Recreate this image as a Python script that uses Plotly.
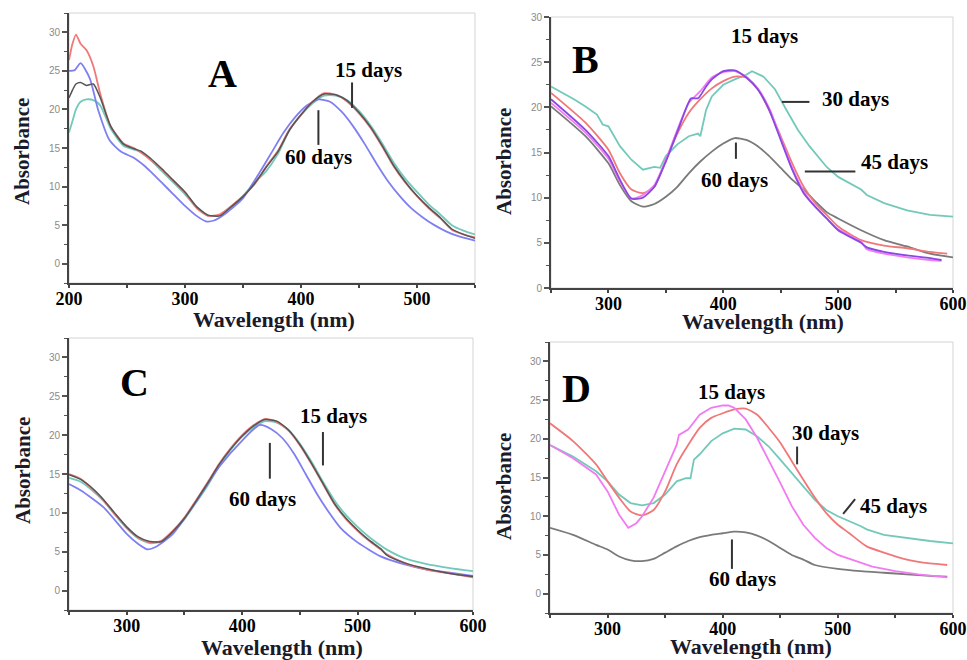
import plotly.graph_objects as go

# ---------------- DATA ----------------
# Panel A
wlA_red = [200,203,206,210,215,221,227,236,247,256,262,270,280,290,300,310,320,330,340,350,360,370,380,390,400,410,420,430,440,450,460,470,480,490,500,510,520,530,540,550]
absA_red = [26.4,28.5,29.7,28.5,27.7,25.6,22.0,17.8,15.6,15.0,14.4,13.5,12.2,10.7,9.2,7.2,6.2,6.4,7.5,8.75,10.3,12.6,14.6,17.4,19.3,21.0,22.1,21.9,21.0,19.5,17.6,15.2,12.6,10.5,8.75,7.2,5.9,4.4,3.8,3.4]
absA_gray = [21.5,22.5,23.3,23.5,23.1,23.3,21.5,17.8,15.5,14.9,14.6,13.7,12.3,10.8,9.3,7.4,6.3,6.2,7.4,8.7,10.4,12.5,14.5,17.3,19.3,21.0,22.0,21.9,21.1,19.6,17.7,15.3,12.7,10.6,8.8,7.3,6.0,4.5,3.8,3.3]
absA_teal = [17.0,18.5,20.0,21.0,21.3,21.2,20.5,17.5,15.3,14.8,14.5,13.5,12.0,10.5,9.0,7.3,6.2,6.3,7.4,8.8,10.5,12.0,14.2,17.3,19.3,20.8,21.8,21.8,21.2,19.8,17.9,15.6,13.1,11.0,9.3,7.7,6.4,5.0,4.3,3.8]
wlA_blue = [200,205,210,218,225,235,245,255,265,270,280,290,300,310,318,325,335,350,365,375,385,395,405,415,425,435,445,455,465,475,485,495,505,515,525,535,550]
absA_blue = [25.0,25.1,26.0,24.0,20.0,16.0,14.5,13.8,12.7,12.0,10.5,9.0,7.5,6.2,5.5,5.6,6.5,8.5,12.0,14.5,17.0,19.0,20.5,21.3,21.0,19.7,17.8,15.5,13.0,10.7,8.8,7.2,6.0,5.0,4.2,3.6,3.0]

# Panel B
wlB_teal = [250,270,280,290,295,300,310,320,330,340,345,350,360,370,378,380,385,390,400,410,420,425,435,445,455,465,475,490,500,520,525,540,560,580,600]
absB_teal = [22.3,20.9,20.1,19.2,18.1,17.9,15.7,14.2,13.1,13.4,13.3,14.6,15.9,16.8,17.1,16.8,19.7,21.2,22.5,23.1,23.6,24.0,23.4,22.0,19.7,17.5,15.7,13.4,12.3,10.9,10.3,9.4,8.6,8.1,7.9]
wlB_red = [250,280,300,310,320,330,340,350,360,370,380,390,400,410,420,430,440,450,460,470,480,490,500,520,540,560,580,595]
absB_red = [21.6,18.3,15.3,12.7,10.9,10.5,11.2,14.2,17.1,19.4,20.9,22.1,22.9,23.4,23.3,22.0,19.7,16.8,13.8,11.2,9.4,8.1,6.8,5.3,4.7,4.4,4.0,3.8]
wlB_purple = [250,280,300,310,320,330,340,350,360,368,372,378,385,390,400,410,420,430,440,450,460,470,480,490,500,520,525,540,560,580,590]
absB_purple = [20.9,17.5,14.6,12.0,9.9,10.0,11.2,14.0,17.3,20.0,21.0,21.0,22.3,23.1,24.0,24.1,23.3,22.0,19.7,16.4,13.1,10.5,9.0,7.7,6.4,5.0,4.5,4.0,3.6,3.3,3.1]
wlB_magenta = [250,280,300,310,320,330,340,350,360,370,380,390,400,410,420,430,440,450,460,470,480,490,500,520,525,540,560,580,590]
absB_magenta = [20.5,17.2,14.3,11.8,9.9,10.3,11.4,14.2,17.5,20.5,21.8,23.3,23.9,24.0,23.4,22.1,19.9,16.6,13.3,10.7,9.0,7.7,6.5,5.1,4.3,3.8,3.4,3.1,3.0]
wlB_gray = [250,280,300,310,320,330,340,350,360,370,380,390,400,410,420,430,440,450,460,470,480,490,500,520,540,560,580,600]
absB_gray = [20.1,16.8,13.8,11.4,9.6,9.0,9.3,10.1,11.2,12.7,14.0,15.1,16.0,16.6,16.4,15.7,14.6,13.3,12.0,10.9,9.6,8.4,7.7,6.4,5.3,4.6,3.8,3.4]

# Panel C
wlC = [250,260,270,280,290,300,310,320,330,340,350,360,370,380,390,400,410,420,430,440,450,460,470,480,490,500,510,520,525,540,560,580,600]
absC_red = [15.0,14.4,13.1,11.6,9.8,8.1,6.8,6.2,6.4,7.7,9.4,11.6,13.9,16.3,18.3,20.0,21.3,22.1,21.7,20.6,18.7,16.3,13.7,11.1,9.2,7.7,6.4,5.3,4.7,3.6,2.7,2.2,1.7]
absC_gray = [14.9,14.3,13.2,11.7,9.9,8.2,6.9,6.3,6.3,7.6,9.3,11.5,13.8,16.2,18.2,19.9,21.2,22.0,21.8,20.7,18.8,16.4,13.8,11.2,9.3,7.8,6.5,5.4,4.6,3.6,2.8,2.2,1.8]
absC_teal = [14.5,14.0,12.9,11.5,9.7,8.0,6.7,6.1,6.3,7.5,9.2,11.3,13.5,16.0,18.1,19.8,21.0,21.8,21.6,20.7,18.9,16.6,14.0,11.6,9.7,8.2,6.9,5.8,5.3,4.2,3.4,2.9,2.5]
wlC_blue = [250,260,280,300,310,318,325,340,360,380,400,415,425,435,445,455,465,475,485,500,520,540,560,580,600]
absC_blue = [13.7,12.9,10.7,7.3,6.0,5.3,5.6,7.3,11.4,15.9,19.3,21.3,20.8,19.6,17.6,15.0,12.4,10.1,8.1,6.2,4.4,3.4,2.7,2.3,1.9]

# Panel D
wlD_red = [250,270,290,300,310,320,330,340,350,360,370,380,390,400,410,420,430,440,450,460,470,480,490,500,510,525,540,560,580,595]
absD_red = [22.0,19.7,16.7,14.5,12.4,10.6,10.1,10.8,13.2,16.7,19.2,21.4,22.7,23.3,23.8,23.9,23.1,21.4,19.5,17.1,14.7,12.4,10.4,8.9,7.8,6.1,5.3,4.4,3.9,3.7]
wlD_magenta = [250,270,290,300,310,318,325,330,340,350,360,362,370,380,390,400,405,410,420,430,440,450,460,470,480,490,500,520,530,550,570,595]
absD_magenta = [19.2,17.5,15.4,13.2,10.2,8.5,9.1,10.0,12.4,15.8,19.2,20.5,21.2,23.1,24.0,24.3,24.3,24.0,22.5,20.1,17.3,14.3,11.3,8.9,7.2,5.9,5.0,4.0,3.5,2.9,2.5,2.1]
wlD_teal = [250,270,290,300,310,320,330,340,350,360,368,372,375,380,390,400,410,420,430,440,450,460,470,480,490,500,520,525,540,560,580,600]
absD_teal = [19.2,17.7,15.8,14.5,12.8,11.7,11.4,11.7,12.8,14.5,14.9,14.9,17.3,18.0,19.7,20.7,21.3,21.2,20.3,19.0,17.3,15.6,13.9,12.1,10.8,10.0,8.7,8.3,7.6,7.2,6.8,6.5]
wlD_gray = [250,270,290,300,310,320,330,340,350,360,370,380,390,400,410,420,430,440,450,460,470,480,500,520,540,560,580,595]
absD_gray = [8.5,7.6,6.3,5.7,4.8,4.3,4.2,4.5,5.3,6.1,6.8,7.3,7.6,7.8,8.0,7.9,7.5,6.8,5.9,5.0,4.4,3.7,3.2,2.9,2.7,2.5,2.3,2.2]

x_ticks_A = [200, 300, 400, 500]
x_ticks_other = [300, 400, 500, 600]

# ---------------- STYLE ----------------
RED = "#f07878"
BLUE = "#7f7ff2"
DGRAY = "#555555"
MGRAY = "#7a7a7a"
TEAL = "#72c9ba"
MAGENTA = "#f27af2"
PURPLE = "#8a48e2"

SERIF = "Liberation Serif"

fig = go.Figure()

def add(x, y, color, ax, width=1.8, shape="spline"):
    fig.add_trace(go.Scatter(x=x, y=y, mode="lines", xaxis="x" + ax, yaxis="y" + ax,
                             line=dict(color=color, width=width, shape=shape, smoothing=0.6),
                             showlegend=False, hoverinfo="skip"))

# A
add(wlA_red, absA_teal, TEAL, "")
add(wlA_blue, absA_blue, BLUE, "")
add(wlA_red, absA_red, RED, "")
add(wlA_red, absA_gray, DGRAY, "", width=1.5)
# B
add(wlB_teal, absB_teal, TEAL, "2", shape="linear")
add(wlB_gray, absB_gray, MGRAY, "2")
add(wlB_red, absB_red, RED, "2")
add(wlB_magenta, absB_magenta, MAGENTA, "2")
add(wlB_purple, absB_purple, PURPLE, "2")
# C
add(wlC, absC_teal, TEAL, "3")
add(wlC_blue, absC_blue, BLUE, "3")
add(wlC, absC_red, RED, "3")
add(wlC, absC_gray, DGRAY, "3", width=1.5)
# D
add(wlD_gray, absD_gray, MGRAY, "4")
add(wlD_teal, absD_teal, TEAL, "4", shape="linear")
add(wlD_red, absD_red, RED, "4")
add(wlD_magenta, absD_magenta, MAGENTA, "4", shape="linear")

W, H = 967, 660
def px(x0, x1):
    return [x0 / W, x1 / W]
def py(top, bottom):
    return [1 - bottom / H, 1 - top / H]

panels = {
    "": dict(xd=px(69, 475), yd=py(13, 283), xr=[200, 550], yr=[-2.5, 32.5], xt=x_ticks_A),
    "2": dict(xd=px(551, 953), yd=py(17, 288), xr=[250, 600], yr=[0, 30], xt=x_ticks_other),
    "3": dict(xd=px(69, 473), yd=py(338, 610), xr=[250, 600], yr=[-2.5, 32.5], xt=x_ticks_other),
    "4": dict(xd=px(550, 953), yd=py(342, 613), xr=[250, 600], yr=[-2.5, 32.5], xt=x_ticks_other),
}

layout = dict(width=W, height=H, margin=dict(l=0, r=0, t=0, b=0, autoexpand=False),
              paper_bgcolor="white", plot_bgcolor="white", showlegend=False)
shapes = []
for k, p in panels.items():
    layout["xaxis" + k] = dict(domain=p["xd"], range=p["xr"], anchor="y" + k, automargin=False,
                               showline=True, linecolor="#444", linewidth=2,
                               ticks="outside", ticklen=3, tickwidth=1.5, tickcolor="#444",
                               tickvals=p["xt"], ticktext=[str(v) for v in p["xt"]],
                               ticklabelstandoff=-5,
                               tickfont=dict(family=SERIF, size=18, color="black", weight="bold"),
                               minor=dict(dtick=50, tick0=0, ticks="outside", ticklen=3, tickcolor="#444", tickwidth=1.5),
                               showgrid=False, zeroline=False, fixedrange=True)
    layout["yaxis" + k] = dict(domain=p["yd"], range=p["yr"], anchor="x" + k, automargin=False,
                               showline=True, linecolor="#444", linewidth=2,
                               ticks="outside", ticklen=5, tickwidth=1.5, tickcolor="#555",
                               dtick=5, tick0=0,
                               tickfont=dict(family="Liberation Sans", size=10, color="#8a8a8a"),
                               minor=dict(dtick=2.5, tick0=0, ticks="outside", ticklen=3, tickcolor="#555", tickwidth=1),
                               showgrid=False, zeroline=False, fixedrange=True)
    shapes.append(dict(type="rect", xref=("x" + k if k else "x") + " domain", yref=("y" + k if k else "y") + " domain",
                       x0=0, x1=1, y0=0, y1=1, line=dict(color="#d4d4d4", width=1), layer="below"))

# label texts (panel, text, x, y, size)
labels = [
    ("", "A", 332, 24.7, 40), ("", "15 days", 458, 25.1, 21), ("", "60 days", 415, 13.8, 21),
    ("2", "B", 280, 25.3, 40), ("2", "15 days", 436, 27.9, 21), ("2", "30 days", 515, 20.9, 21),
    ("2", "45 days", 549, 14.0, 21), ("2", "60 days", 410, 12.0, 21),
    ("3", "C", 307, 26.8, 40), ("3", "15 days", 479, 22.5, 21), ("3", "60 days", 418, 11.8, 21),
    ("4", "D", 273, 26.5, 40), ("4", "15 days", 408, 26.1, 21), ("4", "30 days", 489, 20.7, 21),
    ("4", "45 days", 548, 11.3, 21), ("4", "60 days", 417, 1.9, 21),
]
# pointer lines (panel, x0, y0, x1, y1)
pointers = [
    ("", 444, 23.5, 444, 20.2), ("", 415, 19.9, 415, 15.4),
    ("2", 451, 20.6, 475, 20.6), ("2", 471, 12.9, 515, 12.9), ("2", 411, 16.1, 411, 14.3),
    ("3", 470, 20.4, 470, 16.1), ("3", 424, 19.0, 424, 14.4),
    ("4", 464.6, 19.0, 464.6, 16.7), ("4", 504.6, 10.3, 515, 12.2), ("4", 408, 7.0, 408, 3.2),
]

annotations = []
for k, t, x, y, s in labels:
    annotations.append(dict(xref="x" + k, yref="y" + k, x=x, y=y, text=t, showarrow=False,
                            font=dict(family=SERIF, size=s, color="black", weight="bold")))
for k, x0, y0, x1, y1 in pointers:
    shapes.append(dict(type="line", xref="x" + k, yref="y" + k, x0=x0, y0=y0, x1=x1, y1=y1,
                       line=dict(color="#333", width=2)))

# axis titles (pixel centres)
ytitles = [(22, 152), (504, 162), (23, 471), (504, 487)]
xtitles = [(274, 319), (763, 321), (282, 647), (751, 646)]
for cx, cy in ytitles:
    annotations.append(dict(xref="paper", yref="paper", x=cx / W, y=1 - cy / H, text="Absorbance",
                            showarrow=False, textangle=-90, xanchor="center", yanchor="middle",
                            font=dict(family=SERIF, size=21, color="#1a1a28", weight="bold")))
for cx, cy in xtitles:
    annotations.append(dict(xref="paper", yref="paper", x=cx / W, y=1 - cy / H, text="Wavelength (nm)",
                            showarrow=False, xanchor="center", yanchor="middle",
                            font=dict(family=SERIF, size=22, color="#1a1a28", weight="bold")))

layout["shapes"] = shapes
layout["annotations"] = annotations
fig.update_layout(**layout)
fig.write_html("out.html", config={"displayModeBar": False},
               post_script="document.body.style.margin='0';document.body.style.overflow='hidden';")
